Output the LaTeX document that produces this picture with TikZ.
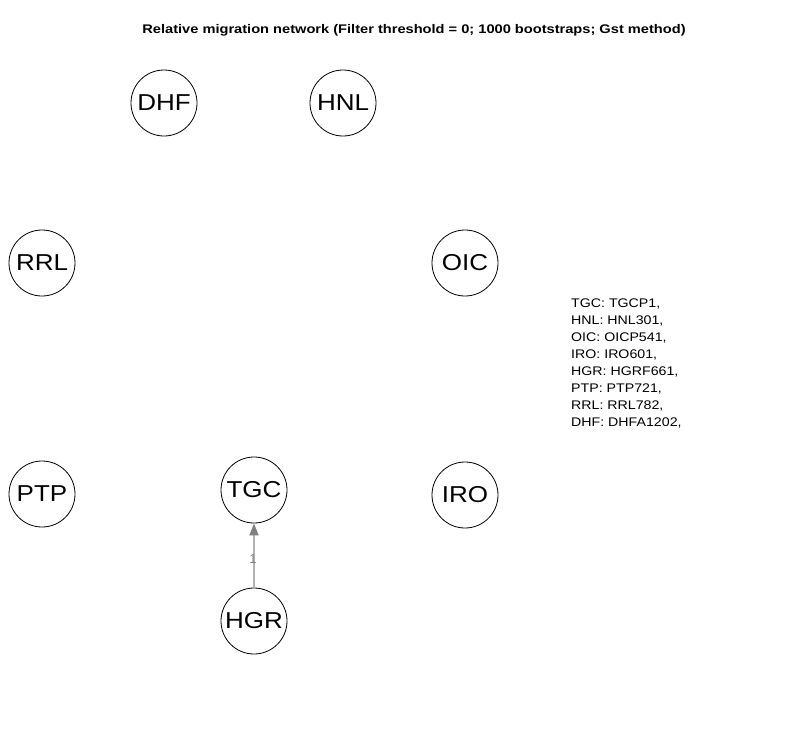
\documentclass[tikz,border=0pt]{standalone}
\usepackage{fontspec}
\setmainfont{Liberation Sans}
\usetikzlibrary{arrows.meta}
\newcommand{\popname}[1]{\scalebox{1.13}[1]{#1}}
\begin{document}
\begin{tikzpicture}[x=1pt,y=-1pt,
  pop/.style={draw=black,circle,minimum size=66pt,inner sep=0pt,line width=0.8pt,
    font=\fontsize{23}{23}\selectfont},
  mig/.style={draw=black!30,line width=1.6pt,-{Triangle[length=12pt,width=9pt,fill=black!50,color=black!50]}},
  leg/.style={font=\fontsize{12.5}{17.1}\selectfont,align=left,inner sep=0pt,anchor=north west}]
\useasboundingbox (0,0) rectangle (800,750);
\node[font=\bfseries\fontsize{12.5}{12.5}\selectfont] (title) at (414,30) {\scalebox{1.17}[1]{Relative migration network (Filter threshold = 0; 1000 bootstraps; Gst method)}};
\node[pop] (DHF) at (164,103) {\popname{DHF}};
\node[pop] (HNL) at (343,103) {\popname{HNL}};
\node[pop] (RRL) at (42,263) {\popname{RRL}};
\node[pop] (OIC) at (465,263) {\popname{OIC}};
\node[pop] (PTP) at (42,494) {\popname{PTP}};
\node[pop] (TGC) at (254,490) {\popname{TGC}};
\node[pop] (IRO) at (465,495) {\popname{IRO}};
\node[pop] (HGR) at (254,621) {\popname{HGR}};
\draw[mig] (HGR) -- node[pos=0.45,text=black!50,font=\fontsize{13}{13}\selectfont,inner sep=0pt,xshift=-1pt] (w) {1} (TGC);
\node[leg] (legend) at (571,295) {\scalebox{1.135}[1]{\begin{tabular}{@{}l@{}}TGC: TGCP1,\\HNL: HNL301,\\OIC: OICP541,\\IRO: IRO601,\\HGR: HGRF661,\\PTP: PTP721,\\RRL: RRL782,\\DHF: DHFA1202,\end{tabular}}};
\end{tikzpicture}
\end{document}
